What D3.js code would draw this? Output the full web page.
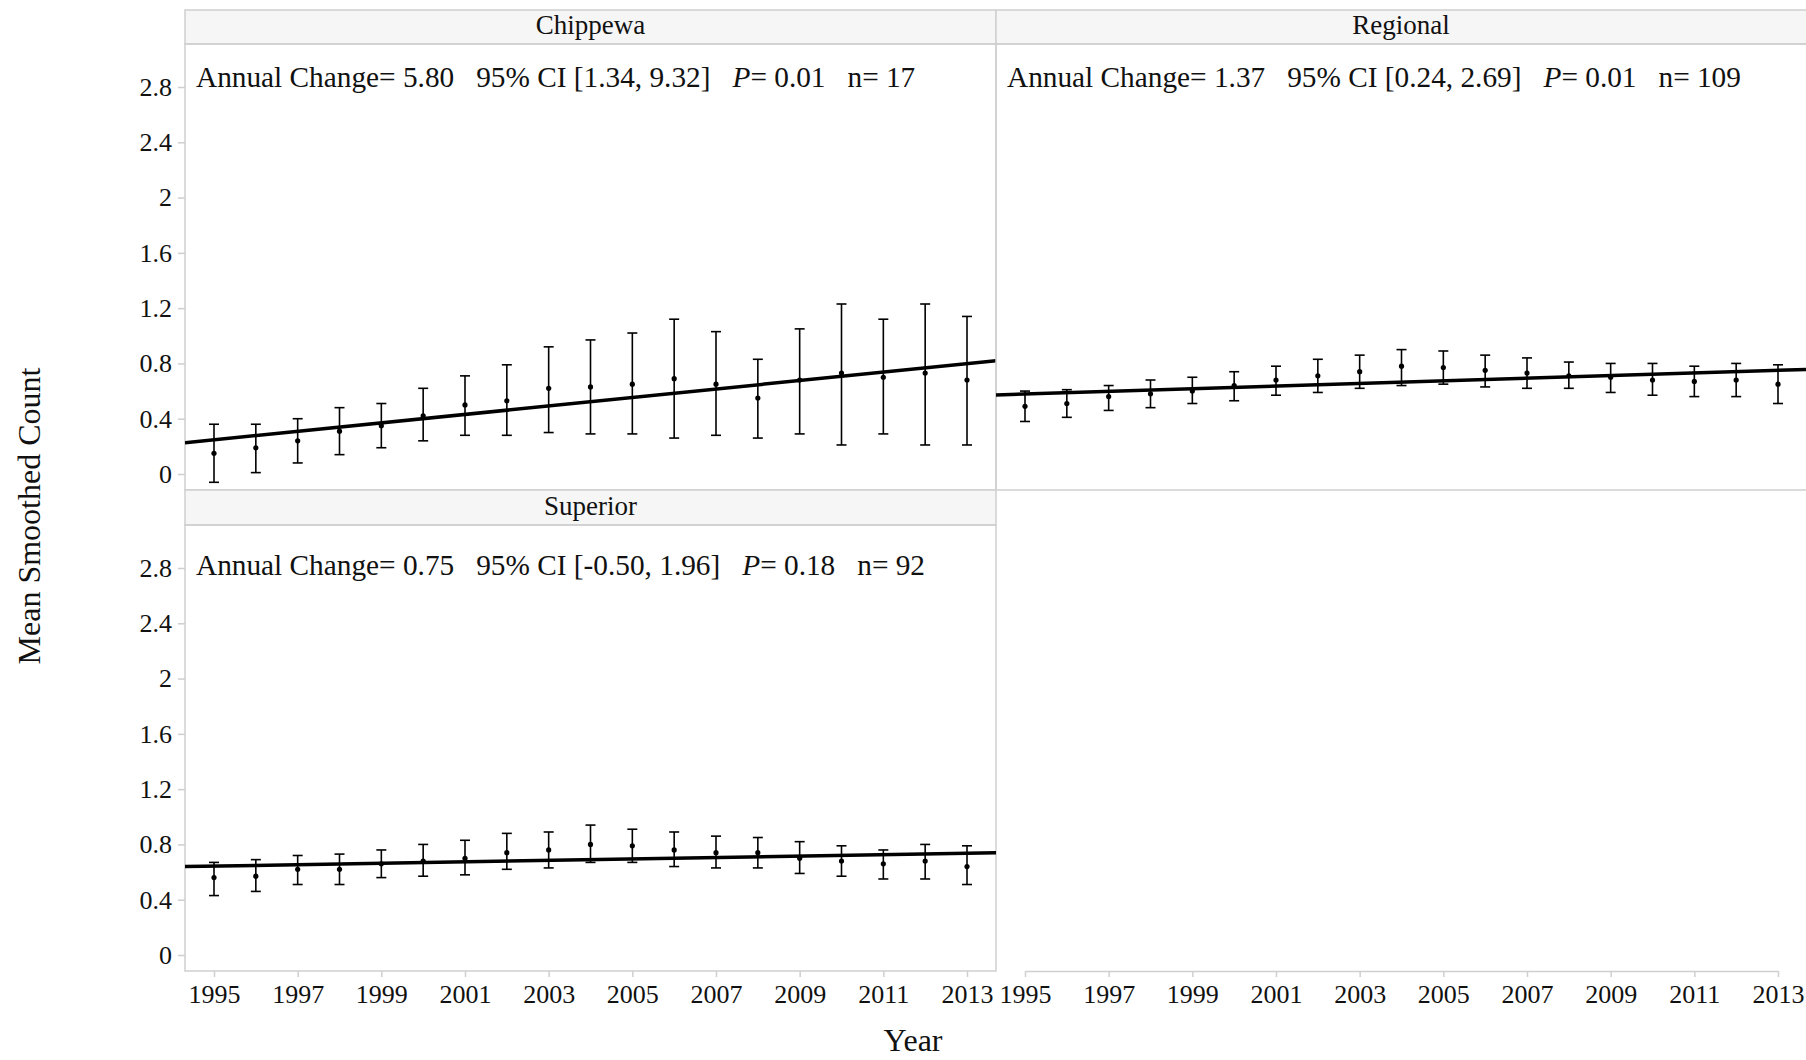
<!DOCTYPE html>
<html>
<head>
<meta charset="utf-8">
<script src="https://cdn.jsdelivr.net/npm/d3@7"></script>
<style>
  html, body { margin: 0; padding: 0; background: #ffffff; }
  svg { display: block; font-family: "Liberation Serif", "Times New Roman", serif; }
  text { white-space: pre; }
</style>
</head>
<body>
<svg id="chart" width="1806" height="1060"></svg>
<script>
// Survey years and axis ticks
const years = [1995, 1996, 1997, 1998, 1999, 2000, 2001, 2002, 2003, 2004,
               2005, 2006, 2007, 2008, 2009, 2010, 2011, 2012, 2013];
const xTicks = [1995, 1997, 1999, 2001, 2003, 2005, 2007, 2009, 2011, 2013];
const yTicks = [0, 0.4, 0.8, 1.2, 1.6, 2, 2.4, 2.8];
const yTickLabels = ["0", "0.4", "0.8", "1.2", "1.6", "2", "2.4", "2.8"];

// Panel names
const regions = ["Chippewa", "Regional", "Superior"];

// Mean smoothed count per year with 95% interval
const chippewaMean  = [0.15, 0.19, 0.24, 0.31, 0.35, 0.42, 0.50, 0.53, 0.62, 0.63, 0.65, 0.69, 0.65, 0.55, 0.68, 0.73, 0.70, 0.73, 0.68];
const chippewaLower = [-0.06, 0.01, 0.08, 0.14, 0.19, 0.24, 0.28, 0.28, 0.30, 0.29, 0.29, 0.26, 0.28, 0.26, 0.29, 0.21, 0.29, 0.21, 0.21];
const chippewaUpper = [0.36, 0.36, 0.40, 0.48, 0.51, 0.62, 0.71, 0.79, 0.92, 0.97, 1.02, 1.12, 1.03, 0.83, 1.05, 1.23, 1.12, 1.23, 1.14];

const regionalMean  = [0.49, 0.51, 0.56, 0.58, 0.60, 0.64, 0.68, 0.71, 0.74, 0.78, 0.77, 0.75, 0.73, 0.71, 0.70, 0.68, 0.67, 0.68, 0.65];
const regionalLower = [0.38, 0.41, 0.46, 0.48, 0.51, 0.53, 0.57, 0.59, 0.62, 0.64, 0.65, 0.63, 0.62, 0.62, 0.59, 0.57, 0.56, 0.56, 0.51];
const regionalUpper = [0.60, 0.61, 0.64, 0.68, 0.70, 0.74, 0.78, 0.83, 0.86, 0.90, 0.89, 0.86, 0.84, 0.81, 0.80, 0.80, 0.78, 0.80, 0.79];

const superiorMean  = [0.56, 0.57, 0.62, 0.62, 0.66, 0.68, 0.70, 0.74, 0.76, 0.80, 0.79, 0.76, 0.74, 0.74, 0.70, 0.68, 0.66, 0.68, 0.64];
const superiorLower = [0.43, 0.46, 0.51, 0.51, 0.56, 0.57, 0.58, 0.62, 0.63, 0.67, 0.67, 0.64, 0.63, 0.63, 0.59, 0.57, 0.55, 0.55, 0.51];
const superiorUpper = [0.67, 0.69, 0.72, 0.73, 0.76, 0.80, 0.83, 0.88, 0.89, 0.94, 0.91, 0.89, 0.86, 0.85, 0.82, 0.79, 0.76, 0.80, 0.79];

// Fitted trend values at the first and last year
const trendChippewa = [0.247, 0.799];
const trendRegional = [0.579, 0.750];
const trendSuperior = [0.643, 0.736];

// Trend statistics
const annualChange = ["5.80", "1.37", "0.75"];
const ciLow        = ["1.34", "0.24", "-0.50"];
const ciHigh       = ["9.32", "2.69", "1.96"];
const pValue       = ["0.01", "0.01", "0.18"];
const nCount       = ["17", "109", "92"];

// ---- layout ----
const W = 1806, H = 1060;
const panelLayout = [
  { x0: 185, x1: 996,  stripTop: 10,  top: 44,  bottom: 490, yAxis: true,  xAxis: false, labelBase: 87 },
  { x0: 996, x1: 1808, stripTop: 10,  top: 44,  bottom: 490, yAxis: false, xAxis: false, labelBase: 87 },
  { x0: 185, x1: 996,  stripTop: 490, top: 525, bottom: 971, yAxis: true,  xAxis: true,  labelBase: 575 }
];
const series = [
  { mean: chippewaMean, lower: chippewaLower, upper: chippewaUpper, trend: trendChippewa },
  { mean: regionalMean, lower: regionalLower, upper: regionalUpper, trend: trendRegional },
  { mean: superiorMean, lower: superiorLower, upper: superiorUpper, trend: trendSuperior }
];

const gridGray = "#cfcfcf";
const serif = "Liberation Serif, Times New Roman, serif";
const svg = d3.select("#chart");
svg.append("rect").attr("width", W).attr("height", H).attr("fill", "#ffffff");

const defs = svg.append("defs");

regions.forEach((name, i) => {
  const L = panelLayout[i];
  const S = series[i];

  const x = d3.scaleLinear().domain([1995, 2013]).range([L.x0 + 29, L.x0 + 29 + 753]);
  const y = d3.scaleLinear().domain([0, 2.8]).range([L.top + 430, L.top + 43]);

  const g = svg.append("g");

  // strip header
  g.append("rect")
    .attr("x", L.x0).attr("y", L.stripTop)
    .attr("width", L.x1 - L.x0).attr("height", L.top - L.stripTop)
    .attr("fill", "#f6f6f6").attr("stroke", gridGray).attr("stroke-width", 1.5);
  g.append("text")
    .attr("x", (Math.min(L.x1, W) + L.x0) / 2).attr("y", L.top - 10)
    .attr("text-anchor", "middle").attr("font-size", 27).attr("fill", "#111")
    .text(name);

  // panel frame
  g.append("rect")
    .attr("x", L.x0).attr("y", L.top)
    .attr("width", L.x1 - L.x0).attr("height", L.bottom - L.top)
    .attr("fill", "none").attr("stroke", gridGray).attr("stroke-width", 1.5);

  // y axis
  if (L.yAxis) {
    const ya = d3.axisLeft(y).tickValues(yTicks)
      .tickFormat((d, k) => yTickLabels[k]).tickSize(7).tickPadding(6);
    const ag = g.append("g").attr("transform", `translate(${L.x0},0)`).call(ya);
    ag.attr("font-family", serif);
    ag.select(".domain").remove();
    ag.selectAll(".tick line").attr("stroke", gridGray).attr("stroke-width", 1.5);
    ag.selectAll(".tick text").attr("font-size", 26).attr("fill", "#111");
  }

  // x axis
  if (L.xAxis) {
    const xa = d3.axisBottom(x).tickValues(xTicks).tickFormat(d3.format("d"))
      .tickSize(6).tickPadding(8);
    const ag = g.append("g").attr("transform", `translate(0,${L.bottom})`).call(xa);
    ag.attr("font-family", serif);
    ag.select(".domain").remove();
    ag.selectAll(".tick line").attr("stroke", gridGray).attr("stroke-width", 1.5);
    ag.selectAll(".tick text").attr("font-size", 26).attr("fill", "#111");
  }

  // clip region for the trend line
  const clipId = "clip" + i;
  defs.append("clipPath").attr("id", clipId).append("rect")
    .attr("x", L.x0).attr("y", L.top).attr("width", L.x1 - L.x0).attr("height", L.bottom - L.top);

  // trend line across the full panel width
  const slope = (S.trend[1] - S.trend[0]) / (2013 - 1995);
  const x0yr = x.domain()[0];
  const xLeft = x.invert(L.x0), xRight = x.invert(L.x1);
  const trendPts = [
    [xLeft,  S.trend[0] + slope * (xLeft - x0yr)],
    [xRight, S.trend[0] + slope * (xRight - x0yr)]
  ];
  g.append("path")
    .datum(trendPts)
    .attr("d", d3.line().x(d => x(d[0])).y(d => y(d[1])))
    .attr("fill", "none").attr("stroke", "#000").attr("stroke-width", 3.5)
    .attr("clip-path", `url(#${clipId})`);

  // error bars
  const bars = g.append("g").selectAll("g").data(years).join("g");
  bars.append("line")
    .attr("x1", (d) => x(d)).attr("x2", (d) => x(d))
    .attr("y1", (d, k) => y(S.lower[k])).attr("y2", (d, k) => y(S.upper[k]))
    .attr("stroke", "#000").attr("stroke-width", 1.6);
  bars.append("line")
    .attr("x1", (d) => x(d) - 5).attr("x2", (d) => x(d) + 5)
    .attr("y1", (d, k) => y(S.upper[k])).attr("y2", (d, k) => y(S.upper[k]))
    .attr("stroke", "#000").attr("stroke-width", 1.6);
  bars.append("line")
    .attr("x1", (d) => x(d) - 5).attr("x2", (d) => x(d) + 5)
    .attr("y1", (d, k) => y(S.lower[k])).attr("y2", (d, k) => y(S.lower[k]))
    .attr("stroke", "#000").attr("stroke-width", 1.6);
  bars.append("circle")
    .attr("cx", (d) => x(d)).attr("cy", (d, k) => y(S.mean[k]))
    .attr("r", 2.6).attr("fill", "#000");

  // statistics annotation
  const t = g.append("text")
    .attr("x", L.x0 + 11).attr("y", L.labelBase)
    .attr("font-size", 29.3).attr("fill", "#111");
  t.append("tspan").text(`Annual Change= ${annualChange[i]}   95% CI [${ciLow[i]}, ${ciHigh[i]}]   `);
  t.append("tspan").attr("font-style", "italic").text("P");
  t.append("tspan").text(`= ${pValue[i]}   n= ${nCount[i]}`);
});

// x axis for the empty lower-right cell
{
  const x = d3.scaleLinear().domain([1995, 2013]).range([996 + 29, 996 + 29 + 753]);
  const xa = d3.axisBottom(x).tickValues(xTicks).tickFormat(d3.format("d"))
    .tickSize(6).tickPadding(8).tickSizeOuter(0);
  const ag = svg.append("g").attr("transform", "translate(0,971)").call(xa);
  ag.attr("font-family", serif);
  ag.select(".domain").attr("stroke", gridGray).attr("stroke-width", 1.5);
  ag.selectAll(".tick line").attr("stroke", gridGray).attr("stroke-width", 1.5);
  ag.selectAll(".tick text").attr("font-size", 26).attr("fill", "#111");
}

// axis titles
svg.append("text")
  .attr("transform", "translate(40,516) rotate(-90)")
  .attr("text-anchor", "middle").attr("font-size", 32).attr("fill", "#111")
  .text("Mean Smoothed Count");
svg.append("text")
  .attr("x", 913).attr("y", 1051)
  .attr("text-anchor", "middle").attr("font-size", 32).attr("fill", "#111")
  .text("Year");
</script>
</body>
</html>
